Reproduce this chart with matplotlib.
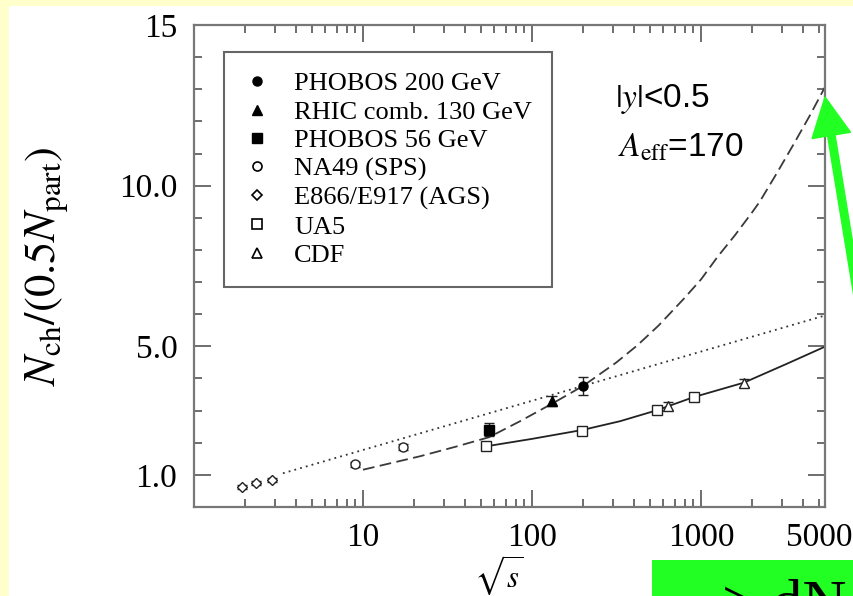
import numpy as np
import matplotlib
matplotlib.use("Agg")
import matplotlib.pyplot as plt
from matplotlib.lines import Line2D
from matplotlib.patches import Rectangle
from matplotlib.ticker import FixedLocator, FixedFormatter, FuncFormatter

plt.rcParams['font.family'] = ['Liberation Serif', 'DejaVu Serif']
plt.rcParams['mathtext.fontset'] = 'stix'

# measured points (sqrt(s), N_ch/(0.5 N_part), error)
ags_x = [1.92, 2.33, 2.91]
ags_y = [0.63, 0.74, 0.84]
ags_err = [0.06, 0.06, 0.06]

na49_x = [8.97, 17.2]
na49_y = [1.33, 1.86]
na49_err = [0.07, 0.09]

ua5_x = [53.8, 198.6, 548, 906]
ua5_y = [1.89, 2.38, 3.01, 3.42]
ua5_err = [0.07, 0.08, 0.08, 0.08]

cdf_x = [639, 1795]
cdf_y = [3.14, 3.85]
cdf_err = [0.12, 0.12]

phobos56_x = [55.6]
phobos56_y = [2.41]
phobos56_err = [0.20]

rhic130_x = [132]
rhic130_y = [3.30]
rhic130_err = [0.15]

phobos200_x = [201]
phobos200_y = [3.77]
phobos200_err = [0.27]

# curves
logfit_x = [3.36, 5420]
logfit_y = [1.05, 5.96]

aa_curve_x = [10, 21.8, 35, 55.6, 85, 132, 201, 316, 420, 562, 785, 1000, 1260, 1585,
              1995, 2226, 2805, 3517, 4416, 5420]
aa_curve_y = [1.16, 1.58, 1.87, 2.17, 2.67, 3.22, 3.77, 4.50, 5.03, 5.65, 6.46, 7.08, 7.80, 8.45,
              9.15, 9.50, 10.38, 11.27, 12.19, 13.07]

pp_curve_x = [53.8, 100, 200, 332, 548, 906, 1795, 3200, 5420]
pp_curve_y = [1.89, 2.12, 2.40, 2.67, 3.01, 3.42, 3.87, 4.45, 4.99]

legend_labels = ['PHOBOS 200 GeV', 'RHIC comb. 130 GeV', 'PHOBOS 56 GeV',
                 'NA49 (SPS)', 'E866/E917 (AGS)', 'UA5', 'CDF']

green = '#22FF22'

fig = plt.figure(figsize=(8.54, 5.96), dpi=100, facecolor='#FFFFCC')
fig.patches.append(Rectangle((9/854, 0), 1, 590/596, transform=fig.transFigure,
                             facecolor='white', edgecolor='none', zorder=-10))

ax = fig.add_axes([194/854, 89/596, 631/854, 482/596])
ax.set_zorder(2)
ax.set_xscale('log')
ax.set_xlim(1, 5420)
ax.set_ylim(0, 15)

# curves
ax.plot(logfit_x, logfit_y, color='#333333', lw=1.3, dashes=(1, 2.3))
ax.plot(aa_curve_x, aa_curve_y, color='#3a3a3a', lw=1.3, dashes=(6.5, 3))
ax.plot(pp_curve_x, pp_curve_y, color='#222222', lw=1.3)

ekw = dict(ls='none', ecolor='#222222', elinewidth=1, capsize=3.5, capthick=1, mew=1)
ax.errorbar(ags_x, ags_y, yerr=ags_err, marker='D', mfc='white', mec='#222222', ms=5.5, **ekw)
ax.errorbar(na49_x, na49_y, yerr=na49_err, marker='o', mfc='white', mec='#222222', ms=6.5, **ekw)
ax.errorbar(ua5_x, ua5_y, yerr=ua5_err, marker='s', mfc='white', mec='#222222', ms=6.5, **ekw)
ax.errorbar(cdf_x, cdf_y, yerr=cdf_err, marker='^', mfc='white', mec='#222222', ms=6.5, **ekw)
ax.errorbar(phobos56_x, phobos56_y, yerr=phobos56_err, marker='s', mfc='black', mec='black', ms=6.5, **ekw)
ax.errorbar(rhic130_x, rhic130_y, yerr=rhic130_err, marker='^', mfc='black', mec='black', ms=6.5, **ekw)
ax.errorbar(phobos200_x, phobos200_y, yerr=phobos200_err, marker='o', mfc='black', mec='black', ms=6.5, **ekw)

# axes styling
for sp in ax.spines.values():
    sp.set_color('#777777')
    sp.set_linewidth(1.6)

ax.xaxis.set_major_locator(FixedLocator([10, 100, 1000]))
ax.xaxis.set_major_formatter(FixedFormatter(['10', '100', '1000']))
minor_x = [m * d for d in (1, 10, 100) for m in range(2, 10)] + [2000, 3000, 4000, 5000]
ax.xaxis.set_minor_locator(FixedLocator(minor_x))
ax.xaxis.set_minor_formatter(FuncFormatter(lambda v, p: '5000' if abs(v - 5000) < 1 else ''))

ax.yaxis.set_major_locator(FixedLocator([1, 5, 10, 15]))
ax.yaxis.set_major_formatter(FixedFormatter(['1.0', '5.0', '10.0', '15']))
ax.yaxis.set_minor_locator(FixedLocator([v for v in range(2, 15) if v not in (5, 10)]))

ax.tick_params(which='both', direction='in', top=True, right=True, color='#555555', labelsize=24)
ax.tick_params(which='major', length=12, width=1.2)
ax.tick_params(which='minor', length=6, width=1.2)
ax.tick_params(axis='x', which='both', pad=11.5)
ax.tick_params(axis='y', which='both', pad=12)

ax.set_xlabel(r'$\sqrt{s}$', fontsize=22)
ax.xaxis.set_label_coords(0.483, -0.095)
ax.set_ylabel(r'$N_{\rm ch}/(0.5N_{\rm part})$', fontsize=32)
ax.yaxis.set_label_coords(-0.195, 0.5)

ax.text(0.667, 0.846, r'$|y|$<0.5', transform=ax.transAxes, fontsize=24,
        family='Liberation Sans', va='center', ha='left')
ax.text(0.672, 0.745, r'$A_{\rm eff}$=170', transform=ax.transAxes, fontsize=24,
        family='Liberation Sans', va='center', ha='left')

# legend, markers only
handles = [
    Line2D([], [], ls='none', marker='o', mfc='black', mec='black', ms=6.5),
    Line2D([], [], ls='none', marker='^', mfc='black', mec='black', ms=6.5),
    Line2D([], [], ls='none', marker='s', mfc='black', mec='black', ms=6.5),
    Line2D([], [], ls='none', marker='o', mfc='white', mec='black', ms=6.5, mew=1.2),
    Line2D([], [], ls='none', marker='D', mfc='white', mec='black', ms=5.5, mew=1.2),
    Line2D([], [], ls='none', marker='s', mfc='white', mec='black', ms=6.5, mew=1.2),
    Line2D([], [], ls='none', marker='^', mfc='white', mec='black', ms=6.5, mew=1.2),
]
leg = ax.legend(handles, legend_labels, loc='upper left', bbox_to_anchor=(0.048, 0.944),
                fontsize=19, frameon=True, fancybox=False, framealpha=1,
                borderpad=0.75, handlelength=1.0, handletextpad=0.9, labelspacing=0.19,
                borderaxespad=0)
leg.get_frame().set_edgecolor('#666666')
leg.get_frame().set_linewidth(1.5)

# green pointer and caption box
ax.annotate('', xy=(825, 596 - 97), xycoords='figure pixels',
            xytext=(878, 596 - 420), textcoords='figure pixels',
            arrowprops=dict(arrowstyle='simple,head_length=1.4,head_width=1.4,tail_width=0.27',
                            mutation_scale=20, color=green, shrinkA=0, shrinkB=0),
            annotation_clip=False)
fig.patches.append(Rectangle((652/854, 0), 1, 36/596, transform=fig.transFigure,
                             facecolor=green, edgecolor='none', zorder=1))
fig.text(722/854, -26/596, '> dN', fontsize=44, color='black', ha='left', va='baseline')

fig.savefig('out.png', dpi=100, facecolor=fig.get_facecolor())
